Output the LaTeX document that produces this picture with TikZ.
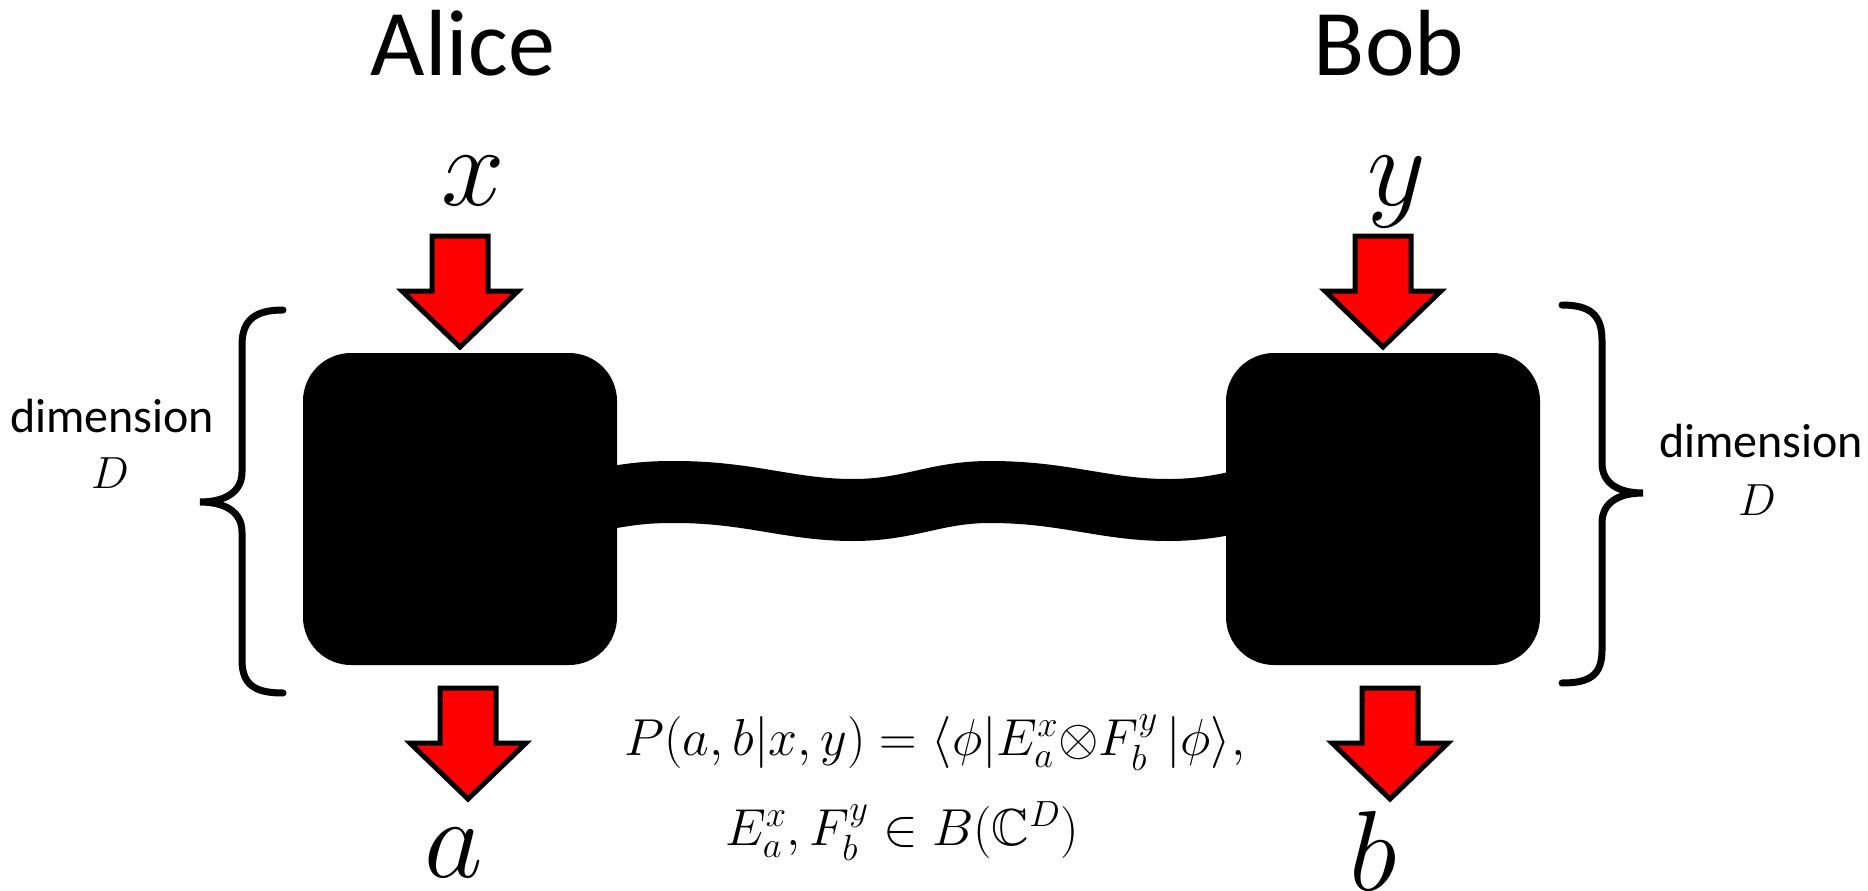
\RequirePackage{fix-cm}
\documentclass[tikz,border=0pt]{standalone}
\usepackage{amsmath,amssymb}
\usepackage{fontspec}
\newfontfamily\calibri{Carlito}
\usetikzlibrary{backgrounds}

\tikzset{
  qbox/.style={fill=black, rounded corners=48pt, minimum width=314pt,
    minimum height=312pt, inner sep=0pt},
  redarrow/.style={fill=red, draw=black, line width=5pt, line join=miter},
  brace/.style={line width=7pt, line cap=round},
  wire/.style={line width=62pt},
  party/.style={font=\calibri\fontsize{94}{100}\selectfont, anchor=base},
  outcome/.style={font=\fontsize{114}{120}\selectfont, anchor=base, inner sep=0pt},
  dimlabel/.style={font=\calibri\fontsize{48}{52}\selectfont, anchor=base},
  dimsym/.style={font=\fontsize{45}{48}\selectfont, anchor=base},
  born/.style={font=\fontsize{52}{56}\selectfont, anchor=base, inner sep=0pt},
  pics/downarrow/.style={code={
    \draw[redarrow] (-28,0) -- (28,0) -- (28,55) -- (58,55) -- (0,111)
      -- (-58,55) -- (-28,55) -- cycle;}}
}

\begin{document}
\begin{tikzpicture}[x=1pt, y=-1pt]
  \useasboundingbox (0,0) rectangle (1868,891);

  % Boxes
  \node[qbox] (alicebox) at (460,509) {};
  \node[qbox] (bobbox) at (1383,509) {};

  % Entangled wire between the boxes
  \coordinate (wirestart) at ([xshift=-20pt, yshift=9pt]alicebox.east);
  \coordinate (wireend) at ([xshift=19pt, yshift=9pt]bobbox.west);
  \begin{pgfonlayer}{background}
    \draw[wire] (wirestart) .. controls (635,493) and (650,492) .. (675,492)
      .. controls (750,492) and (790,510) .. (853,510)
      .. controls (910,510) and (935,492) .. (990,492)
      .. controls (1065,492) and (1105,510) .. (1168,510)
      .. controls (1200,510) and (1225,505) .. (wireend);
  \end{pgfonlayer}

  % Names
  \node[party] (alice) at (463,75) {Alice};
  \node[party] (bob) at (1389,75) {Bob};

  % Inputs and outputs
  \node[outcome] (xin) at (473,205) {$x$};
  \node[outcome] (yin) at (1397,205) {$y$};
  \node[outcome] (aout) at (454,877) {$a$};
  \node[outcome] (bout) at (1373,890) {$b$};
  \pic at (460,236) {downarrow};
  \pic at (1383,236) {downarrow};
  \pic at (468,688) {downarrow};
  \pic at (1390,688) {downarrow};

  % Braces
  \draw[brace] (283,310) .. controls (255,310) and (242,320) .. (242,345)
    -- (242,472) .. controls (242,492) and (225,502) .. (200,502)
    .. controls (225,502) and (242,512) .. (242,532)
    -- (242,660) .. controls (242,685) and (255,693) .. (283,693);
  \draw[brace] (1562,305) .. controls (1590,305) and (1602,315) .. (1602,340)
    -- (1602,463) .. controls (1602,483) and (1618,493) .. (1643,493)
    .. controls (1618,493) and (1602,503) .. (1602,523)
    -- (1602,650) .. controls (1602,675) and (1590,683) .. (1562,683);
  \node[dimlabel] (dimleft) at (112,432) {dimension};
  \node[dimsym] (dleft) at (110,488) {$D$};
  \node[dimlabel] (dimright) at (1761,457) {dimension};
  \node[dimsym] (dright) at (1757,515) {$D$};

  % Probabilities
  \node[born] (rule) at (935,755)
    {$P(a,b|x,y) = \langle\phi|E_a^x{\otimes}F_b^y\,|\phi\rangle,$};
  \node[born] (ops) at (902,845) {$E_a^x, F_b^y \in B(\mathbb{C}^D)$};
\end{tikzpicture}
\end{document}
